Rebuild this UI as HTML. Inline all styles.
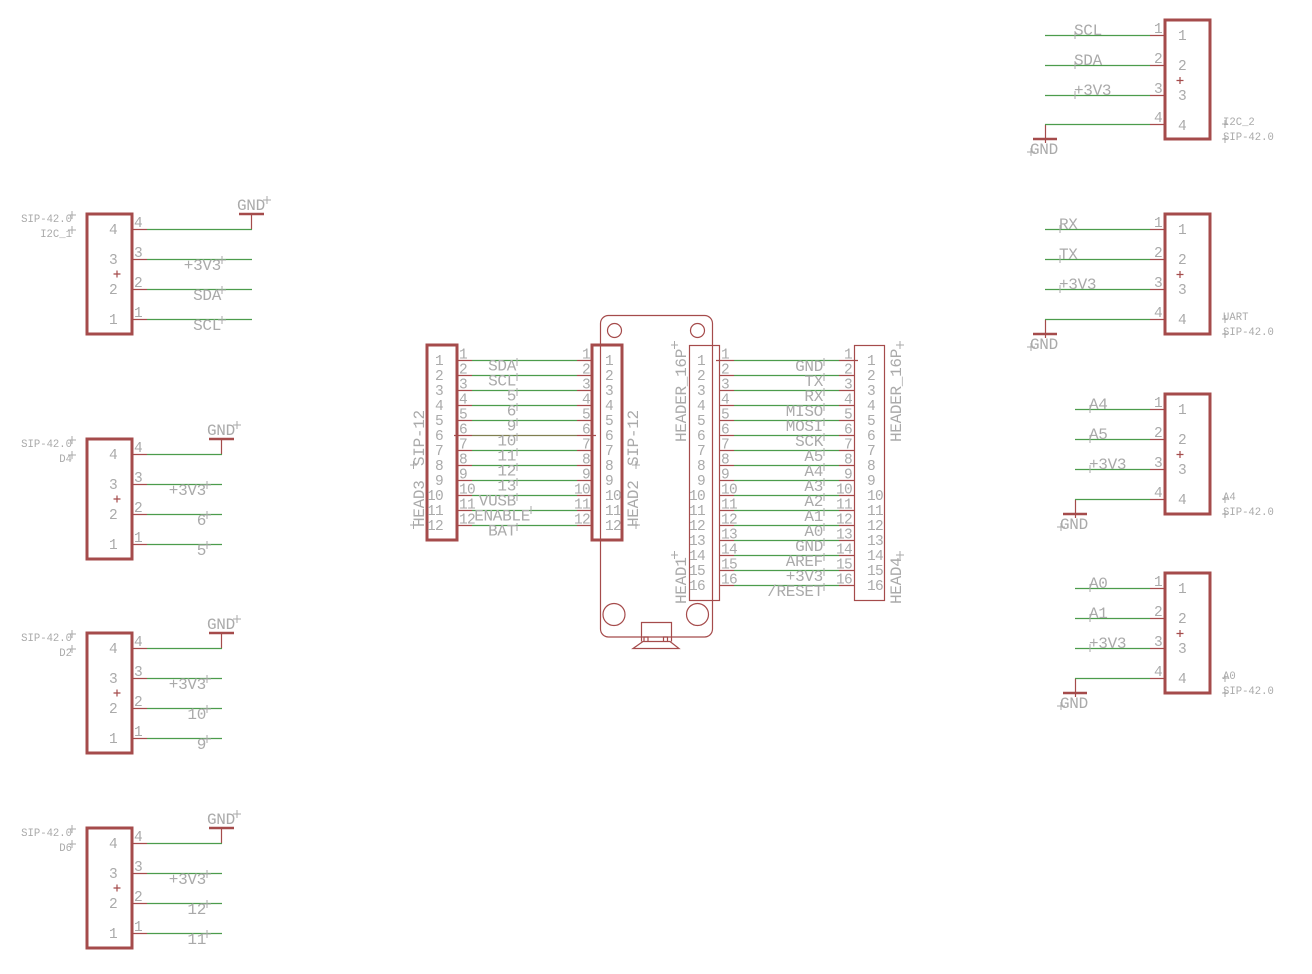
<!DOCTYPE html>
<html><head><meta charset="utf-8"><title>Schematic</title>
<style>
html,body{margin:0;padding:0;background:#fff;width:1312px;height:974px;overflow:hidden}
svg{display:block}
text{font-family:"Liberation Mono",monospace;fill:#aaa;white-space:pre}
.l{font-size:16px;letter-spacing:-.3px}
.n{font-size:14.5px;letter-spacing:-.7px}
.s{font-size:10.6px;letter-spacing:0}
.e{text-anchor:end}
.box{fill:none;stroke:#a54b4b;stroke-width:3}
.thin{fill:none;stroke:#a54b4b;stroke-width:1.2}
.r{fill:none;stroke:#a54b4b;stroke-width:1.2}
.g{fill:none;stroke:#4c9c4c;stroke-width:1.2}
.bar{fill:none;stroke:#a54b4b;stroke-width:2.4}
.x{fill:none;stroke:#aaa;stroke-width:1}
</style></head><body>
<svg width="1312" height="974" viewBox="0 0 1312 974" xmlns="http://www.w3.org/2000/svg">

<!-- Board -->
<rect class="thin" x="600.5" y="315.5" width="112" height="321.5" rx="8"/>
<circle class="thin" cx="614.5" cy="330.5" r="7"/>
<circle class="thin" cx="697.5" cy="330.5" r="7"/>
<circle class="thin" cx="614" cy="614.5" r="11"/>
<circle class="thin" cx="697.5" cy="614.5" r="11"/>
<path class="thin" d="M641.5 641.5V622.5H671.5V641.5M633 648.5H679L670 641.5H643ZM644 637V641.5H648V637ZM663.5 637V641.5H667.5V637Z"/>

<!-- HEAD3 / HEAD2 -->
<path class="r" d="M457 360.5H472M577 360.5H592M457 375.5H472M577 375.5H592M457 390.5H472M577 390.5H592M457 405.5H472M577 405.5H592M457 420.5H472M577 420.5H592M454 435.5H472M577 435.5H596M457 450.5H472M577 450.5H592M457 465.5H472M577 465.5H592M457 480.5H472M577 480.5H592M457 495.5H472M577 495.5H592M457 510.5H472M577 510.5H592M457 525.5H472M577 525.5H592"/>
<path class="g" d="M472 360.5H577M472 375.5H577M472 390.5H577M472 405.5H577M472 420.5H577M472 450.5H577M472 465.5H577M472 480.5H577M472 495.5H577M472 510.5H577M472 525.5H577"/>
<path d="M472 435.5H577" fill="none" stroke="#7f7f50" stroke-width="1.2"/>
<rect class="box" x="427" y="345" width="30" height="195"/>
<rect class="box" x="592" y="345" width="30" height="195"/>
<path class="x" d="M517 358V366M517 373V381M517 388V396M517 403V411M517 418V426M517 433V441M517 448V456M517 463V471M517 478V486M517 493V501M531 506V514M517 523V531M410 465H417M413.500 461V469M410 525H417M413.500 521V529M632 465H640M636 461V469M632 525H640M636 521V529"/>

<text class="n" x="459" y="358.500">1</text><text class="n" x="459" y="373.500">2</text><text class="n" x="459" y="388.500">3</text><text class="n" x="459" y="403.500">4</text><text class="n" x="459" y="418.500">5</text><text class="n" x="459" y="433.500">6</text><text class="n" x="459" y="448.500">7</text><text class="n" x="459" y="463.500">8</text><text class="n" x="459" y="478.500">9</text><text class="n" x="459" y="493.500">10</text><text class="n" x="459" y="508.500">11</text><text class="n" x="459" y="523.500">12</text>
<text class="n e" x="590" y="358.500">1</text><text class="n e" x="590" y="373.500">2</text><text class="n e" x="590" y="388.500">3</text><text class="n e" x="590" y="403.500">4</text><text class="n e" x="590" y="418.500">5</text><text class="n e" x="590" y="433.500">6</text><text class="n e" x="590" y="448.500">7</text><text class="n e" x="590" y="463.500">8</text><text class="n e" x="590" y="478.500">9</text><text class="n e" x="590" y="493.500">10</text><text class="n e" x="590" y="508.500">11</text><text class="n e" x="590" y="523.500">12</text>
<text class="n e" x="443" y="365">1</text><text class="n e" x="443" y="380">2</text><text class="n e" x="443" y="395">3</text><text class="n e" x="443" y="410">4</text><text class="n e" x="443" y="425">5</text><text class="n e" x="443" y="440">6</text><text class="n e" x="443" y="455">7</text><text class="n e" x="443" y="470">8</text><text class="n e" x="443" y="485">9</text><text class="n e" x="443" y="500">10</text><text class="n e" x="443" y="515">11</text><text class="n e" x="443" y="530">12</text>
<text class="n" x="605" y="365">1</text><text class="n" x="605" y="380">2</text><text class="n" x="605" y="395">3</text><text class="n" x="605" y="410">4</text><text class="n" x="605" y="425">5</text><text class="n" x="605" y="440">6</text><text class="n" x="605" y="455">7</text><text class="n" x="605" y="470">8</text><text class="n" x="605" y="485">9</text><text class="n" x="605" y="500">10</text><text class="n" x="605" y="515">11</text><text class="n" x="605" y="530">12</text>
<text class="l e" x="516" y="370.500">SDA</text><text class="l e" x="516" y="385.500">SCL</text><text class="l e" x="516" y="400.500">5</text><text class="l e" x="516" y="415.500">6</text><text class="l e" x="516" y="430.500">9</text><text class="l e" x="516" y="445.500">10</text><text class="l e" x="516" y="460.500">11</text><text class="l e" x="516" y="475.500">12</text><text class="l e" x="516" y="490.500">13</text><text class="l e" x="516" y="505.500">VUSB</text><text class="l e" x="530" y="520.500">ENABLE</text><text class="l e" x="516" y="535.500">BAT</text>
<text class="l" transform="translate(424 466) rotate(-90)">SIP-12</text>
<text class="l" transform="translate(424 527) rotate(-90)">HEAD3</text>
<text class="l" transform="translate(638 466) rotate(-90)">SIP-12</text>
<text class="l" transform="translate(638 527) rotate(-90)">HEAD2</text>

<!-- HEAD1 / HEAD4 -->
<path class="r" d="M716 360.500H734M839 360.500H858M719 375.500H734M839 375.500H854M719 390.500H734M839 390.500H854M719 405.500H734M839 405.500H854M719 420.500H734M839 420.500H854M719 435.500H734M839 435.500H854M719 450.500H734M839 450.500H854M719 465.500H734M839 465.500H854M719 480.500H734M839 480.500H854M719 495.500H734M839 495.500H854M719 510.500H734M839 510.500H854M719 525.500H734M839 525.500H854M719 540.500H734M839 540.500H854M719 555.500H734M839 555.500H854M719 570.500H734M839 570.500H854M719 585.500H734M839 585.500H854"/>
<path class="g" d="M734 360.500H839M734 375.500H839M734 390.500H839M734 405.500H839M734 420.500H839M734 435.500H839M734 450.500H839M734 465.500H839M734 480.500H839M734 495.500H839M734 510.500H839M734 525.500H839M734 540.500H839M734 555.500H839M734 570.500H839M734 585.500H839"/>
<rect class="thin" x="689.500" y="345.500" width="30" height="255"/>
<rect class="thin" x="854.500" y="345.500" width="30" height="255"/>
<path class="x" d="M824 358V366M824 373V381M824 388V396M824 403V411M824 418V426M824 433V441M824 448V456M824 463V471M824 478V486M824 493V501M824 508V516M824 523V531M824 538V546M824 553V561M824 568V576M824 583V591M671 345H678M674.500 341V349M671 555H678M674.500 551V559M896 345H904M900 341V349M896 555H904M900 551V559"/>

<text class="n" x="721" y="358.500">1</text><text class="n" x="721" y="373.500">2</text><text class="n" x="721" y="388.500">3</text><text class="n" x="721" y="403.500">4</text><text class="n" x="721" y="418.500">5</text><text class="n" x="721" y="433.500">6</text><text class="n" x="721" y="448.500">7</text><text class="n" x="721" y="463.500">8</text><text class="n" x="721" y="478.500">9</text><text class="n" x="721" y="493.500">10</text><text class="n" x="721" y="508.500">11</text><text class="n" x="721" y="523.500">12</text><text class="n" x="721" y="538.500">13</text><text class="n" x="721" y="553.500">14</text><text class="n" x="721" y="568.500">15</text><text class="n" x="721" y="583.500">16</text>
<text class="n e" x="852" y="358.500">1</text><text class="n e" x="852" y="373.500">2</text><text class="n e" x="852" y="388.500">3</text><text class="n e" x="852" y="403.500">4</text><text class="n e" x="852" y="418.500">5</text><text class="n e" x="852" y="433.500">6</text><text class="n e" x="852" y="448.500">7</text><text class="n e" x="852" y="463.500">8</text><text class="n e" x="852" y="478.500">9</text><text class="n e" x="852" y="493.500">10</text><text class="n e" x="852" y="508.500">11</text><text class="n e" x="852" y="523.500">12</text><text class="n e" x="852" y="538.500">13</text><text class="n e" x="852" y="553.500">14</text><text class="n e" x="852" y="568.500">15</text><text class="n e" x="852" y="583.500">16</text>
<text class="n e" x="705" y="365">1</text><text class="n e" x="705" y="380">2</text><text class="n e" x="705" y="395">3</text><text class="n e" x="705" y="410">4</text><text class="n e" x="705" y="425">5</text><text class="n e" x="705" y="440">6</text><text class="n e" x="705" y="455">7</text><text class="n e" x="705" y="470">8</text><text class="n e" x="705" y="485">9</text><text class="n e" x="705" y="500">10</text><text class="n e" x="705" y="515">11</text><text class="n e" x="705" y="530">12</text><text class="n e" x="705" y="545">13</text><text class="n e" x="705" y="560">14</text><text class="n e" x="705" y="575">15</text><text class="n e" x="705" y="590">16</text>
<text class="n" x="867" y="365">1</text><text class="n" x="867" y="380">2</text><text class="n" x="867" y="395">3</text><text class="n" x="867" y="410">4</text><text class="n" x="867" y="425">5</text><text class="n" x="867" y="440">6</text><text class="n" x="867" y="455">7</text><text class="n" x="867" y="470">8</text><text class="n" x="867" y="485">9</text><text class="n" x="867" y="500">10</text><text class="n" x="867" y="515">11</text><text class="n" x="867" y="530">12</text><text class="n" x="867" y="545">13</text><text class="n" x="867" y="560">14</text><text class="n" x="867" y="575">15</text><text class="n" x="867" y="590">16</text>
<text class="l e" x="823" y="371">GND</text><text class="l e" x="823" y="386">TX</text><text class="l e" x="823" y="401">RX</text><text class="l e" x="823" y="416">MISO</text><text class="l e" x="823" y="431">MOSI</text><text class="l e" x="823" y="446">SCK</text><text class="l e" x="823" y="461">A5</text><text class="l e" x="823" y="476">A4</text><text class="l e" x="823" y="491">A3</text><text class="l e" x="823" y="506">A2</text><text class="l e" x="823" y="521">A1</text><text class="l e" x="823" y="536">A0</text><text class="l e" x="823" y="551">GND</text><text class="l e" x="823" y="566">AREF</text><text class="l e" x="823" y="581">+3V3</text><text class="l e" x="823" y="596">/RESET</text>
<text class="l" transform="translate(686 442) rotate(-90)">HEADER_16P</text>
<text class="l" transform="translate(686 604) rotate(-90)">HEAD1</text>
<text class="l" transform="translate(901 442) rotate(-90)">HEADER_16P</text>
<text class="l" transform="translate(901 604) rotate(-90)">HEAD4</text>

<!-- I2C_1 -->
<g transform="translate(0 214)">
<path class="r" d="M132 15.500H147M132 45.500H147M132 75.500H147M132 105.500H147M251.500 0V15.500"/>
<path class="g" d="M147 15.500H252M147 45.500H252M147 75.500H252M147 105.500H252"/>
<rect class="box" x="87" y="0" width="45" height="120"/>
<path class="bar" d="M239 0H264"/>
<path class="r" d="M113.500 60H120.500M117 56.500V63.500"/>
<path class="x" d="M68 1H76M72 -3V5M68 16H76M72 12V20M263 -14H271M267 -18V-10M218 46H226M222 42V50M218 76H226M222 72V80M218 106H226M222 102V110"/>
<text class="s e" x="72" y="8">SIP-42.0</text><text class="s e" x="72" y="23">I2C_1</text>
<text class="l" x="237" y="-4">GND</text>
<text class="l e" x="221" y="56">+3V3</text><text class="l e" x="221" y="86">SDA</text><text class="l e" x="221" y="116">SCL</text>
<text class="n" x="134" y="13">4</text><text class="n" x="134" y="43">3</text><text class="n" x="134" y="73">2</text><text class="n" x="134" y="103">1</text>
<text class="n e" x="117" y="20">4</text><text class="n e" x="117" y="50">3</text><text class="n e" x="117" y="80">2</text><text class="n e" x="117" y="110">1</text>
</g>

<!-- D4 -->
<g transform="translate(0 439)">
<path class="r" d="M132 15.500H147M132 45.500H147M132 75.500H147M132 105.500H147M221.500 0V15.500"/>
<path class="g" d="M147 15.500H222M147 45.500H222M147 75.500H222M147 105.500H222"/>
<rect class="box" x="87" y="0" width="45" height="120"/>
<path class="bar" d="M209 0H234"/>
<path class="r" d="M113.500 60H120.500M117 56.500V63.500"/>
<path class="x" d="M68 1H76M72 -3V5M68 16H76M72 12V20M233 -14H241M237 -18V-10M203 46H211M207 42V50M203 76H211M207 72V80M203 106H211M207 102V110"/>
<text class="s e" x="72" y="8">SIP-42.0</text><text class="s e" x="72" y="23">D4</text>
<text class="l" x="207" y="-4">GND</text>
<text class="l e" x="206" y="56">+3V3</text><text class="l e" x="206" y="86">6</text><text class="l e" x="206" y="116">5</text>
<text class="n" x="134" y="13">4</text><text class="n" x="134" y="43">3</text><text class="n" x="134" y="73">2</text><text class="n" x="134" y="103">1</text>
<text class="n e" x="117" y="20">4</text><text class="n e" x="117" y="50">3</text><text class="n e" x="117" y="80">2</text><text class="n e" x="117" y="110">1</text>
</g>

<!-- D2 -->
<g transform="translate(0 633)">
<path class="r" d="M132 15.500H147M132 45.500H147M132 75.500H147M132 105.500H147M221.500 0V15.500"/>
<path class="g" d="M147 15.500H222M147 45.500H222M147 75.500H222M147 105.500H222"/>
<rect class="box" x="87" y="0" width="45" height="120"/>
<path class="bar" d="M209 0H234"/>
<path class="r" d="M113.500 60H120.500M117 56.500V63.500"/>
<path class="x" d="M68 1H76M72 -3V5M68 16H76M72 12V20M233 -14H241M237 -18V-10M203 46H211M207 42V50M203 76H211M207 72V80M203 106H211M207 102V110"/>
<text class="s e" x="72" y="8">SIP-42.0</text><text class="s e" x="72" y="23">D2</text>
<text class="l" x="207" y="-4">GND</text>
<text class="l e" x="206" y="56">+3V3</text><text class="l e" x="206" y="86">10</text><text class="l e" x="206" y="116">9</text>
<text class="n" x="134" y="13">4</text><text class="n" x="134" y="43">3</text><text class="n" x="134" y="73">2</text><text class="n" x="134" y="103">1</text>
<text class="n e" x="117" y="20">4</text><text class="n e" x="117" y="50">3</text><text class="n e" x="117" y="80">2</text><text class="n e" x="117" y="110">1</text>
</g>

<!-- D6 -->
<g transform="translate(0 828)">
<path class="r" d="M132 15.500H147M132 45.500H147M132 75.500H147M132 105.500H147M221.500 0V15.500"/>
<path class="g" d="M147 15.500H222M147 45.500H222M147 75.500H222M147 105.500H222"/>
<rect class="box" x="87" y="0" width="45" height="120"/>
<path class="bar" d="M209 0H234"/>
<path class="r" d="M113.500 60H120.500M117 56.500V63.500"/>
<path class="x" d="M68 1H76M72 -3V5M68 16H76M72 12V20M233 -14H241M237 -18V-10M203 46H211M207 42V50M203 76H211M207 72V80M203 106H211M207 102V110"/>
<text class="s e" x="72" y="8">SIP-42.0</text><text class="s e" x="72" y="23">D6</text>
<text class="l" x="207" y="-4">GND</text>
<text class="l e" x="206" y="56">+3V3</text><text class="l e" x="206" y="86">12</text><text class="l e" x="206" y="116">11</text>
<text class="n" x="134" y="13">4</text><text class="n" x="134" y="43">3</text><text class="n" x="134" y="73">2</text><text class="n" x="134" y="103">1</text>
<text class="n e" x="117" y="20">4</text><text class="n e" x="117" y="50">3</text><text class="n e" x="117" y="80">2</text><text class="n e" x="117" y="110">1</text>
</g>

<!-- I2C_2 -->
<g transform="translate(0 20)">
<path class="r" d="M1150 15.500H1165M1150 45.500H1165M1150 75.500H1165M1150 104.500H1165M1045.500 104.500V123"/>
<path class="g" d="M1045 15.500H1150M1045 45.500H1150M1045 75.500H1150M1045 104.500H1150"/>
<rect class="box" x="1165" y="0" width="45" height="119"/>
<path class="bar" d="M1033 119H1057"/>
<path class="r" d="M1176.500 60.500H1183.500M1180 57V64"/>
<path class="x" d="M1075 11V19M1075 41V49M1075 71V79M1027 132H1035M1031 128V136M1222 104H1228M1225 100V108M1222 119H1228M1225 115V123"/>
<text class="l" x="1074" y="15">SCL</text><text class="l" x="1074" y="45">SDA</text><text class="l" x="1074" y="75">+3V3</text>
<text class="l" x="1030" y="134">GND</text>
<text class="s" x="1223" y="105">I2C_2</text><text class="s" x="1223" y="120">SIP-42.0</text>
<text class="n e" x="1162" y="13">1</text><text class="n e" x="1162" y="43">2</text><text class="n e" x="1162" y="73">3</text><text class="n e" x="1162" y="102">4</text>
<text class="n" x="1178" y="20">1</text><text class="n" x="1178" y="50">2</text><text class="n" x="1178" y="80">3</text><text class="n" x="1178" y="110">4</text>
</g>

<!-- UART -->
<g transform="translate(0 214)">
<path class="r" d="M1150 15.500H1165M1150 45.500H1165M1150 75.500H1165M1150 105.500H1165M1045.500 105.500V124"/>
<path class="g" d="M1045 15.500H1150M1045 45.500H1150M1045 75.500H1150M1045 105.500H1150"/>
<rect class="box" x="1165" y="0" width="45" height="120"/>
<path class="bar" d="M1033 120H1057"/>
<path class="r" d="M1176.500 60.500H1183.500M1180 57V64"/>
<path class="x" d="M1060 11V19M1060 41V49M1060 71V79M1027 133H1035M1031 129V137M1222 105H1228M1225 101V109M1222 120H1228M1225 116V124"/>
<text class="l" x="1059" y="15">RX</text><text class="l" x="1059" y="45">TX</text><text class="l" x="1059" y="75">+3V3</text>
<text class="l" x="1030" y="135">GND</text>
<text class="s" x="1223" y="106">UART</text><text class="s" x="1223" y="121">SIP-42.0</text>
<text class="n e" x="1162" y="13">1</text><text class="n e" x="1162" y="43">2</text><text class="n e" x="1162" y="73">3</text><text class="n e" x="1162" y="103">4</text>
<text class="n" x="1178" y="20">1</text><text class="n" x="1178" y="50">2</text><text class="n" x="1178" y="80">3</text><text class="n" x="1178" y="110">4</text>
</g>

<!-- A4 -->
<g transform="translate(0 394)">
<path class="r" d="M1150 15.500H1165M1150 45.500H1165M1150 75.500H1165M1150 105.500H1165M1075.500 105.500V124"/>
<path class="g" d="M1075 15.500H1150M1075 45.500H1150M1075 75.500H1150M1075 105.500H1150"/>
<rect class="box" x="1165" y="0" width="45" height="120"/>
<path class="bar" d="M1063 120H1087"/>
<path class="r" d="M1176.500 60.500H1183.500M1180 57V64"/>
<path class="x" d="M1090 11V19M1090 41V49M1090 71V79M1057 133H1065M1061 129V137M1222 105H1228M1225 101V109M1222 120H1228M1225 116V124"/>
<text class="l" x="1089" y="15">A4</text><text class="l" x="1089" y="45">A5</text><text class="l" x="1089" y="75">+3V3</text>
<text class="l" x="1060" y="135">GND</text>
<text class="s" x="1223" y="106">A4</text><text class="s" x="1223" y="121">SIP-42.0</text>
<text class="n e" x="1162" y="13">1</text><text class="n e" x="1162" y="43">2</text><text class="n e" x="1162" y="73">3</text><text class="n e" x="1162" y="103">4</text>
<text class="n" x="1178" y="20">1</text><text class="n" x="1178" y="50">2</text><text class="n" x="1178" y="80">3</text><text class="n" x="1178" y="110">4</text>
</g>

<!-- A0 -->
<g transform="translate(0 573)">
<path class="r" d="M1150 15.500H1165M1150 45.500H1165M1150 75.500H1165M1150 105.500H1165M1075.500 105.500V124"/>
<path class="g" d="M1075 15.500H1150M1075 45.500H1150M1075 75.500H1150M1075 105.500H1150"/>
<rect class="box" x="1165" y="0" width="45" height="120"/>
<path class="bar" d="M1063 120H1087"/>
<path class="r" d="M1176.500 60.500H1183.500M1180 57V64"/>
<path class="x" d="M1090 11V19M1090 41V49M1090 71V79M1057 133H1065M1061 129V137M1222 105H1228M1225 101V109M1222 120H1228M1225 116V124"/>
<text class="l" x="1089" y="15">A0</text><text class="l" x="1089" y="45">A1</text><text class="l" x="1089" y="75">+3V3</text>
<text class="l" x="1060" y="135">GND</text>
<text class="s" x="1223" y="106">A0</text><text class="s" x="1223" y="121">SIP-42.0</text>
<text class="n e" x="1162" y="13">1</text><text class="n e" x="1162" y="43">2</text><text class="n e" x="1162" y="73">3</text><text class="n e" x="1162" y="103">4</text>
<text class="n" x="1178" y="20">1</text><text class="n" x="1178" y="50">2</text><text class="n" x="1178" y="80">3</text><text class="n" x="1178" y="110">4</text>
</g>
</svg>
</body></html>
